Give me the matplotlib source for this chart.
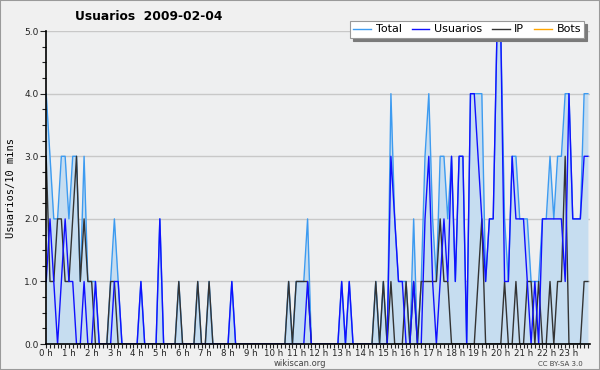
import matplotlib
matplotlib.use("Agg")
import matplotlib.pyplot as plt
from matplotlib.patches import Rectangle
import numpy as np

# one value per 10 minutes, 6 per hour, 0 h .. 23 h 50
total = [4, 3, 2, 2, 3, 3,  2, 3, 3, 1, 3, 1,  1, 1, 0, 0, 0, 1,  2, 1, 0, 0, 0, 0,
         0, 1, 0, 0, 0, 0,  2, 0, 0, 0, 0, 1,  0, 0, 0, 0, 1, 0,  0, 1, 0, 0, 0, 0,
         0, 1, 0, 0, 0, 0,  0, 0, 0, 0, 0, 0,  0, 0, 0, 0, 1, 0,  1, 1, 1, 2, 0, 0,
         0, 0, 0, 0, 0, 0,  1, 0, 1, 0, 0, 0,  0, 0, 0, 1, 0, 1,  0, 4, 2, 1, 1, 1,
         0, 2, 0, 1, 3, 4,  2, 1, 3, 3, 2, 3,  1, 3, 3, 0, 4, 4,  4, 4, 1, 2, 2, 5,
         5, 2, 1, 3, 3, 2,  2, 2, 1, 1, 1, 2,  2, 3, 2, 3, 3, 4,  4, 2, 2, 2, 4, 4]
usuarios = [1, 2, 1, 0, 1, 2,  1, 1, 0, 0, 1, 0,  0, 1, 0, 0, 0, 0,  1, 1, 0, 0, 0, 0,
            0, 1, 0, 0, 0, 0,  2, 0, 0, 0, 0, 0,  0, 0, 0, 0, 0, 0,  0, 0, 0, 0, 0, 0,
            0, 1, 0, 0, 0, 0,  0, 0, 0, 0, 0, 0,  0, 0, 0, 0, 0, 0,  0, 0, 0, 1, 0, 0,
            0, 0, 0, 0, 0, 0,  1, 0, 1, 0, 0, 0,  0, 0, 0, 0, 0, 0,  0, 3, 2, 1, 1, 0,
            0, 1, 0, 0, 2, 3,  1, 0, 1, 2, 1, 3,  1, 3, 3, 0, 4, 4,  3, 2, 1, 2, 2, 5,
            5, 1, 1, 3, 2, 2,  2, 1, 0, 1, 0, 2,  2, 2, 2, 2, 2, 1,  4, 2, 2, 2, 3, 3]
ip = [3, 1, 1, 2, 2, 1,  1, 2, 3, 1, 2, 1,  1, 0, 0, 0, 0, 1,  1, 0, 0, 0, 0, 0,
      0, 0, 0, 0, 0, 0,  0, 0, 0, 0, 0, 1,  0, 0, 0, 0, 1, 0,  0, 1, 0, 0, 0, 0,
      0, 0, 0, 0, 0, 0,  0, 0, 0, 0, 0, 0,  0, 0, 0, 0, 1, 0,  1, 1, 1, 1, 0, 0,
      0, 0, 0, 0, 0, 0,  0, 0, 0, 0, 0, 0,  0, 0, 0, 1, 0, 1,  0, 1, 0, 0, 0, 1,
      0, 1, 0, 1, 1, 1,  1, 1, 2, 1, 1, 0,  0, 0, 0, 0, 0, 0,  1, 2, 0, 0, 0, 0,
      0, 1, 0, 0, 1, 0,  0, 1, 1, 0, 1, 0,  0, 1, 0, 1, 1, 3,  0, 0, 0, 0, 1, 1]
bots = [0] * 144
hour_labels = [f"{h} h" for h in range(24)]

x = np.arange(len(total))

fig = plt.figure(figsize=(6, 3.7), dpi=100, facecolor='#f0f0f0')
ax = fig.add_axes([0.077, 0.07, 0.906, 0.846])
ax.set_facecolor('#eeeff0')

# draw series
ax.plot(x, bots, color='#ffa500', lw=1, zorder=0.5)
ax.fill_between(x, 0, total, color='#c6ddf0', lw=0, zorder=1)
ax.plot(x, total, color='#3d9bf0', lw=1, label='Total', zorder=2)
ax.plot(x, ip, color='#333333', lw=1, label='IP', zorder=2.1)
ax.plot(x, usuarios, color='#1010ff', lw=1, label='Usuarios', zorder=2.2)

ax.set_xlim(0, 143.5)
ax.set_ylim(0, 5)

# axes and ticks
for s in ['top', 'right']:
    ax.spines[s].set_visible(False)
for s in ['left', 'bottom']:
    ax.spines[s].set_linewidth(1.2)
    ax.spines[s].set_zorder(5)
ax.set_yticks(np.arange(0, 5.01, 1))
ax.set_yticks(np.arange(0, 5.01, 0.25), minor=True)
ax.set_yticklabels([f"{v:.1f}" for v in range(6)])
ax.set_xticks(np.arange(0, 144, 6))
ax.set_xticks(np.arange(0, 144, 1), minor=True)
ax.set_xticklabels(hour_labels)
ax.tick_params(axis='both', which='both', direction='out', length=3, width=0.8,
               labelsize=6.5, colors='#222222', pad=1.5)
ax.tick_params(axis='x', which='major', pad=0.5, labelsize=6.2)
ax.tick_params(axis='y', which='major', length=4)
ax.yaxis.grid(True, which='major', color='#c8c8c8', lw=1)
ax.set_axisbelow(True)

ax.set_ylabel('Usuarios/10 mins', family='DejaVu Sans Mono', fontsize=7.5, labelpad=6)

# legend (same order as the original)
handles = [plt.Line2D([], [], color='#3d9bf0', lw=1),
           plt.Line2D([], [], color='#1010ff', lw=1),
           plt.Line2D([], [], color='#333333', lw=1),
           plt.Line2D([], [], color='#ffa500', lw=1)]
leg = fig.legend(handles, ['Total', 'Usuarios', 'IP', 'Bots'], ncol=4,
                 loc='upper right', bbox_to_anchor=(0.983, 0.958), fontsize=8,
                 frameon=True, fancybox=False,
                 shadow={'color': '#7a7a7a', 'alpha': 1}, handlelength=1.6,
                 handletextpad=0.4, columnspacing=0.9, borderpad=0.3)
leg.get_frame().set_edgecolor('#999999')
leg.get_frame().set_linewidth(0.8)

fig.text(0.125, 0.945, 'Usuarios  2009-02-04', fontsize=8.8, fontweight='bold')
fig.text(0.5, 0.017, 'wikiscan.org', fontsize=6, color='#444444', ha='center',
         va='center')
fig.text(0.972, 0.017, 'CC BY-SA 3.0', fontsize=5, color='#444444', ha='right',
         va='center')

# thin frame around the whole picture
fig.patches.append(Rectangle((0, 0), 1, 1, transform=fig.transFigure, fill=False,
                             edgecolor='#9a9a9a', lw=1.5))

fig.savefig('out.png', dpi=100, facecolor=fig.get_facecolor())
